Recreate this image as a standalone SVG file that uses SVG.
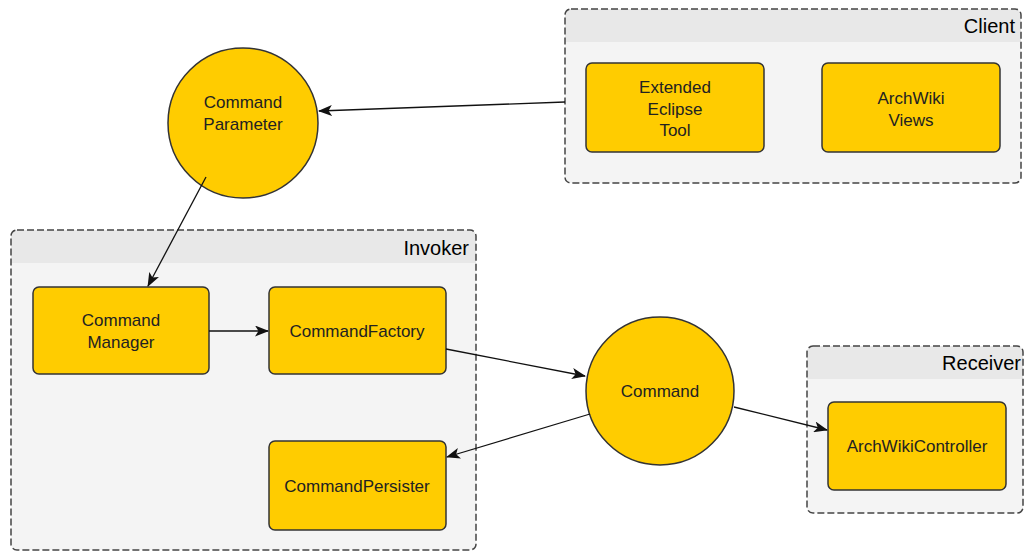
<svg xmlns="http://www.w3.org/2000/svg" width="1026" height="552" viewBox="0 0 1026 552">
  <style>
    .grp { fill: #f4f4f4; stroke: #444; stroke-width: 1.5; stroke-dasharray: 7 3; }
    .hdr { fill: #e8e8e8; }
    .title { font-family: "Liberation Sans", Arial, sans-serif; font-size: 20px; fill: #000; text-anchor: end; }
    .box { fill: #ffcc00; stroke: #333; stroke-width: 1.5; }
    .lbl { font-family: "Liberation Sans", Arial, sans-serif; font-size: 17px; fill: #222; text-anchor: middle; }
    .edge { stroke: #111; stroke-width: 1.3; fill: none; marker-end: url(#arrow); }
  </style>
  <defs>
    <marker id="arrow" viewBox="0 0 14 11" refX="13" refY="5.5" markerWidth="14" markerHeight="11" markerUnits="userSpaceOnUse" orient="auto">
      <path d="M0,0 L14,5.5 L0,11 L3.5,5.5 Z" fill="#111"/>
    </marker>
    <clipPath id="clipClient"><rect x="565" y="9" width="456" height="174" rx="6"/></clipPath>
    <clipPath id="clipInvoker"><rect x="11" y="230" width="465" height="320" rx="6"/></clipPath>
    <clipPath id="clipReceiver"><rect x="807" y="346" width="216" height="167" rx="6"/></clipPath>
  </defs>

  <!-- Client container -->
  <g id="client">
    <rect class="grp" x="565" y="9" width="456" height="174" rx="6" style="stroke:none"/>
    <rect class="hdr" x="565" y="9" width="456" height="33" clip-path="url(#clipClient)"/>
    <rect class="grp" x="565" y="9" width="456" height="174" rx="6" style="fill:none"/>
    <text class="title" x="1015" y="33">Client</text>
  </g>

  <!-- Invoker container -->
  <g id="invoker">
    <rect class="grp" x="11" y="230" width="465" height="320" rx="6" style="stroke:none"/>
    <rect class="hdr" x="11" y="230" width="465" height="33" clip-path="url(#clipInvoker)"/>
    <rect class="grp" x="11" y="230" width="465" height="320" rx="6" style="fill:none"/>
    <text class="title" x="469" y="255">Invoker</text>
  </g>

  <!-- Receiver container -->
  <g id="receiver">
    <rect class="grp" x="807" y="346" width="216" height="167" rx="6" style="stroke:none"/>
    <rect class="hdr" x="807" y="346" width="216" height="33" clip-path="url(#clipReceiver)"/>
    <rect class="grp" x="807" y="346" width="216" height="167" rx="6" style="fill:none"/>
    <text class="title" x="1021" y="370">Receiver</text>
  </g>

  <g id="extended-eclipse-tool">
    <rect class="box" x="586" y="63" width="178" height="89" rx="6"/>
    <text class="lbl" x="675" y="93">Extended</text>
    <text class="lbl" x="675" y="115">Eclipse</text>
    <text class="lbl" x="675" y="136">Tool</text>
  </g>

  <g id="archwiki-views">
    <rect class="box" x="822" y="63" width="178" height="89" rx="6"/>
    <text class="lbl" x="911" y="104">ArchWiki</text>
    <text class="lbl" x="911" y="126">Views</text>
  </g>

  <g id="command-parameter">
    <circle class="box" cx="243" cy="123" r="75"/>
    <text class="lbl" x="243" y="108">Command</text>
    <text class="lbl" x="243" y="130">Parameter</text>
  </g>

  <g id="command-manager">
    <rect class="box" x="33" y="287" width="176" height="87" rx="6"/>
    <text class="lbl" x="121" y="326">Command</text>
    <text class="lbl" x="121" y="348">Manager</text>
  </g>

  <g id="command-factory">
    <rect class="box" x="269" y="287" width="177" height="87" rx="6"/>
    <text class="lbl" x="357" y="337">CommandFactory</text>
  </g>

  <g id="command-persister">
    <rect class="box" x="269" y="441" width="177" height="89" rx="6"/>
    <text class="lbl" x="357" y="492">CommandPersister</text>
  </g>

  <g id="command">
    <circle class="box" cx="660" cy="391" r="74"/>
    <text class="lbl" x="660" y="397">Command</text>
  </g>

  <g id="archwiki-controller">
    <rect class="box" x="828" y="402" width="178" height="88" rx="6"/>
    <text class="lbl" x="917" y="452">ArchWikiController</text>
  </g>

  <!-- Connectors -->
  <g id="connectors">
    <path class="edge" d="M565,102 L319,111"/>
    <path class="edge" d="M206,177 L148,286"/>
    <path class="edge" d="M209,331 L268,331"/>
    <path class="edge" d="M446,349 L585,376"/>
    <path class="edge" d="M590,414 L447,457"/>
    <path class="edge" d="M734,407 L827,430"/>
  </g>
</svg>
